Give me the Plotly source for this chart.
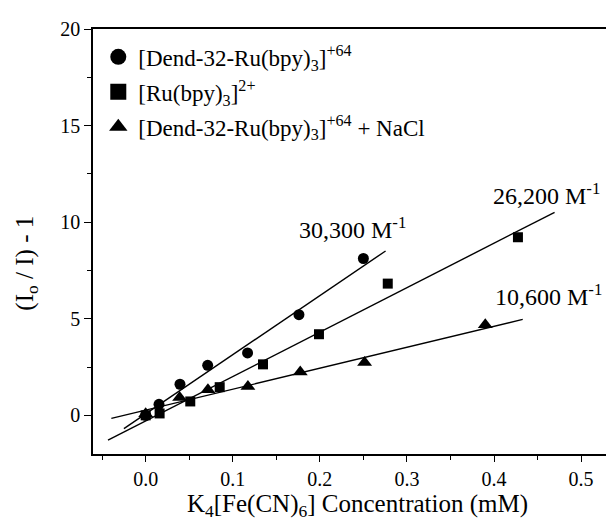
import plotly.graph_objects as go

# ---- data ----
conc_dend = [0.0, 0.0153, 0.0394, 0.0712, 0.117, 0.176, 0.250]
quench_dend = [0.0, 0.57, 1.61, 2.59, 3.23, 5.21, 8.12]

conc_ru = [0.0, 0.016, 0.0512, 0.085, 0.1347, 0.199, 0.278, 0.4275]
quench_ru = [0.0, 0.10, 0.72, 1.46, 2.64, 4.20, 6.82, 9.22]

conc_nacl = [0.0, 0.039, 0.0715, 0.1174, 0.1775, 0.2514, 0.390]
quench_nacl = [0.08, 0.92, 1.32, 1.49, 2.24, 2.74, 4.69]

series_names = [
    "[Dend-32-Ru(bpy)<sub>3</sub>]<sup>+64</sup>",
    "[Ru(bpy)<sub>3</sub>]<sup>2+</sup>",
    "[Dend-32-Ru(bpy)<sub>3</sub>]<sup>+64</sup> + NaCl",
]
series_symbols = ["circle", "square", "triangle-up"]

# linear fits (as drawn in the reference)
fit_slope = [30.6, 23.0, 10.85]
fit_intercept = [0.08, -0.29, 0.27]
fit_xstart = [-0.025, -0.0433, -0.0394]
fit_xend = [0.2755, 0.4696, 0.433]

fit_labels = ["30,300 M<sup>-1</sup>", "26,200 M<sup>-1</sup>", "10,600 M<sup>-1</sup>"]
fit_label_x = [0.238, 0.524, 0.526]
fit_label_y = [9.7, 11.46, 6.23]
fit_label_anchor = ["center", "right", "right"]

FONT = "Liberation Serif"

fig = go.Figure()

xs = [conc_dend, conc_ru, conc_nacl]
ys = [quench_dend, quench_ru, quench_nacl]
sizes = [11, 10, 13]

for i in range(3):
    x0, x1 = fit_xstart[i], fit_xend[i]
    fig.add_trace(go.Scatter(
        x=[x0, x1],
        y=[fit_intercept[i] + fit_slope[i] * x0, fit_intercept[i] + fit_slope[i] * x1],
        mode="lines", line=dict(color="black", width=1.4),
        showlegend=False, hoverinfo="skip"))

for i in range(3):
    fig.add_trace(go.Scatter(
        x=xs[i], y=ys[i], mode="markers",
        marker=dict(symbol=series_symbols[i], size=sizes[i], color="black"),
        showlegend=False))

# legend-only traces (bigger symbols, as in the reference)
for i in range(3):
    fig.add_trace(go.Scatter(
        x=[None], y=[None], mode="markers", name=series_names[i],
        legendgroup=f"g{i}",
        marker=dict(symbol=series_symbols[i], size=16, color="black"),
        showlegend=True))

for i in range(3):
    fig.add_annotation(x=fit_label_x[i], y=fit_label_y[i], text=fit_labels[i],
                       showarrow=False, font=dict(family=FONT, size=24, color="black"),
                       xanchor=fit_label_anchor[i], yanchor="middle")

# y-axis title as annotation (placed like the reference)
fig.add_annotation(xref="paper", yref="paper", x=-0.125, y=0.45,
                   text="(I<sub>o</sub> / I) - 1", textangle=-90, showarrow=False,
                   font=dict(family=FONT, size=25, color="black"),
                   xanchor="center", yanchor="middle")

fig.update_layout(
    width=614, height=521,
    margin=dict(l=85, r=0, t=21, b=75),
    paper_bgcolor="white", plot_bgcolor="white",
    font=dict(family=FONT, size=20, color="black"),
    legend=dict(x=0.01, y=0.985, xanchor="left", yanchor="top",
                font=dict(family=FONT, size=23), bgcolor="rgba(0,0,0,0)",
                traceorder="grouped", tracegroupgap=2, itemwidth=30),
)

fig.update_xaxes(
    range=[-0.0605, 0.547], showgrid=False, zeroline=False,
    showline=True, linecolor="black", linewidth=1.5, mirror=True,
    tickmode="array", tickvals=[0.0, 0.1, 0.2, 0.3, 0.4, 0.5],
    ticktext=["0.0", "0.1", "0.2", "0.3", "0.4", "0.5"],
    ticks="outside", ticklen=6, tickwidth=1.3, tickcolor="black",
    minor=dict(tickvals=[-0.05, 0.05, 0.15, 0.25, 0.35, 0.45], ticks="outside",
               ticklen=4, tickwidth=1.2, tickcolor="black"),
    tickfont=dict(family=FONT, size=20),
    title=dict(text="K<sub>4</sub>[Fe(CN)<sub>6</sub>] Concentration (mM)",
               font=dict(family=FONT, size=25), standoff=3),
)

fig.update_yaxes(
    range=[-2, 20], showgrid=False, zeroline=False,
    showline=True, linecolor="black", linewidth=1.5, mirror=False,
    tickmode="array", tickvals=[0, 5, 10, 15, 20],
    ticks="outside", ticklen=7, tickwidth=1.3, tickcolor="black",
    minor=dict(tickvals=[2.5, 7.5, 12.5, 17.5], ticks="outside",
               ticklen=4, tickwidth=1.2, tickcolor="black"),
    tickfont=dict(family=FONT, size=20),
)

fig.write_html("out.html")
